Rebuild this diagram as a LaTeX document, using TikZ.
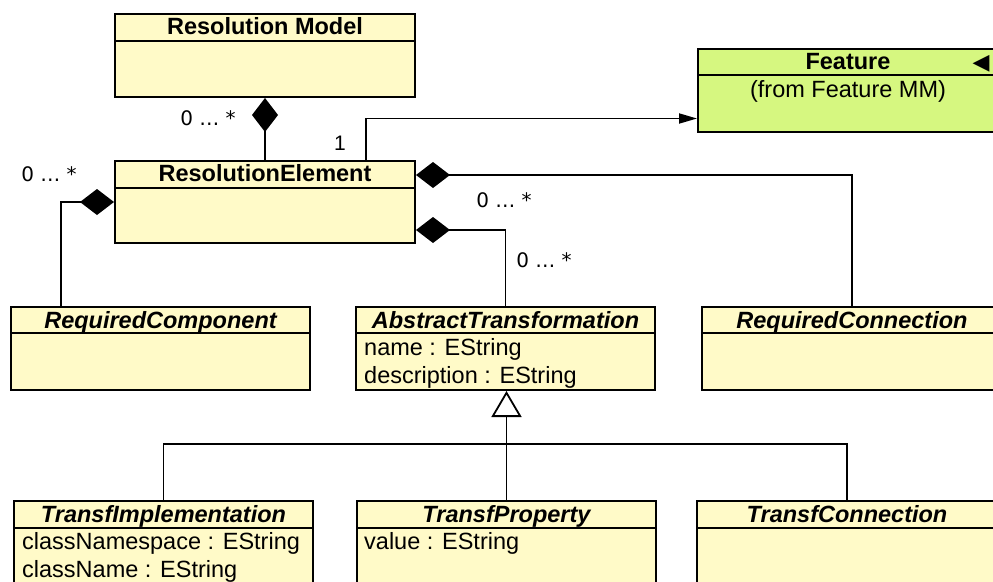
\documentclass[tikz,border=0pt]{standalone}
\usepackage{fontspec}
\setmainfont{Liberation Sans}
\newfontfamily\dejavu{DejaVu Sans}
\usetikzlibrary{arrows.meta,calc}
\definecolor{umlyellow}{RGB}{255,250,200}
\definecolor{umlgreen}{RGB}{214,247,128}
\begin{document}
\begin{tikzpicture}[x=1pt,y=-1pt,
  cls/.style={draw=black, line width=2pt, fill=umlyellow, rectangle, inner sep=0pt, anchor=north west},
  hdr/.style={inner sep=0pt, anchor=base, font=\fontsize{23.5}{28}\selectfont\bfseries},
  ihdr/.style={inner sep=0pt, anchor=base, font=\fontsize{23.5}{28}\selectfont\bfseries\itshape},
  attr/.style={inner sep=0pt, anchor=base west, font=\fontsize{23.5}{28}\selectfont},
  mult/.style={inner sep=0pt, font=\dejavu\fontsize{20}{24}\selectfont},
  conn/.style={line width=1.8pt, draw=black},
  compo/.style={{Diamond[length=34pt,width=26pt]}-},
  inherit/.style={-{Triangle[length=26pt,width=30pt,fill=white]}},
  assoc/.style={-{Triangle[length=18pt,width=10pt]}}
]
\path[use as bounding box, clip] (0,0) rectangle (993,581);

% classes
\node[cls, minimum width=300pt, minimum height=83pt] (rm) at (114,13) {};
\draw[line width=1.6pt] ([yshift=-28pt]rm.north west) -- ([yshift=-28pt]rm.north east);
\node[hdr] (rmt) at ([yshift=-21.5pt]rm.north) {Resolution Model};

\node[cls, minimum width=300pt, minimum height=82pt] (re) at (114,160) {};
\draw[line width=1.6pt] ([yshift=-28pt]re.north west) -- ([yshift=-28pt]re.north east);
\node[hdr] (ret) at ([yshift=-21.5pt]re.north) {ResolutionElement};

\node[cls, fill=umlgreen, minimum width=300pt, minimum height=83pt] (feat) at (697,48) {};
\draw[line width=1.6pt] ([yshift=-27pt]feat.north west) -- ([yshift=-27pt]feat.north east);
\node[hdr] (featt) at ([yshift=-21pt]feat.north) {Feature};
\node[attr, anchor=base] (featf) at ([yshift=-49pt]feat.north) {(from Feature MM)};
\node[inner sep=0pt, font=\dejavu\fontsize{22}{24}\selectfont] (feats) at (981,64) {◀};

\node[cls, minimum width=299pt, minimum height=83pt] (rcomp) at (10,306) {};
\draw[line width=1.6pt] ([yshift=-27pt]rcomp.north west) -- ([yshift=-27pt]rcomp.north east);
\node[ihdr] (rcompt) at ([yshift=-22pt]rcomp.north) {RequiredComponent};

\node[cls, minimum width=299pt, minimum height=83pt] (at) at (355,306) {};
\draw[line width=1.6pt] ([yshift=-27pt]at.north west) -- ([yshift=-27pt]at.north east);
\node[ihdr] (att) at ([yshift=-22pt]at.north) {AbstractTransformation};
\node[attr] (ata1) at ([xshift=9pt,yshift=-49pt]at.north west) {name : EString};
\node[attr] (ata2) at ([xshift=9pt,yshift=-77pt]at.north west) {description : EString};

\node[cls, minimum width=300pt, minimum height=83pt] (rconn) at (701,306) {};
\draw[line width=1.6pt] ([yshift=-27pt]rconn.north west) -- ([yshift=-27pt]rconn.north east);
\node[ihdr] (rconnt) at ([yshift=-22pt]rconn.north) {RequiredConnection};

\node[cls, minimum width=299pt, minimum height=100pt] (ti) at (13,500) {};
\draw[line width=1.6pt] ([yshift=-28pt]ti.north west) -- ([yshift=-28pt]ti.north east);
\node[ihdr] (tit) at ([yshift=-22pt]ti.north) {TransfImplementation};
\node[attr] (tia1) at ([xshift=9pt,yshift=-49pt]ti.north west) {classNamespace : EString};
\node[attr] (tia2) at ([xshift=9pt,yshift=-77pt]ti.north west) {className : EString};

\node[cls, minimum width=299pt, minimum height=100pt] (tp) at (356,500) {};
\draw[line width=1.6pt] ([yshift=-28pt]tp.north west) -- ([yshift=-28pt]tp.north east);
\node[ihdr] (tpt) at ([yshift=-22pt]tp.north) {TransfProperty};
\node[attr] (tpa1) at ([xshift=8pt,yshift=-49pt]tp.north west) {value : EString};

\node[cls, minimum width=300pt, minimum height=100pt] (tc) at (696,500) {};
\draw[line width=1.6pt] ([yshift=-28pt]tc.north west) -- ([yshift=-28pt]tc.north east);
\node[ihdr] (tct) at ([yshift=-22pt]tc.north) {TransfConnection};

% connectors
\draw[conn, compo] (rm.south) -- (re.north);
\draw[conn, assoc] ([xshift=101pt]re.north) |- ([yshift=-28pt]feat.west);
\draw[conn, compo] ([yshift=27pt]re.east) -| (rconn.north);
\draw[conn, compo] ([yshift=-28pt]re.east) -| (at.north);
\draw[conn, compo] (re.west) -| ([xshift=-99.5pt]rcomp.north);

\coordinate (bus) at (505,444);
\draw[conn] (ti.north) |- (bus) -| (tc.north);
\draw[conn, inherit] (tp.north) -- (tp.north |- at.south);

% multiplicities
\node[mult] (m1) at (208,118) {0 … *};
\node[inner sep=0pt, font=\fontsize{21}{24}\selectfont] (m2) at (340,143) {1};
\node[mult] (m3) at (49,174) {0 … *};
\node[mult] (m4) at (504,200) {0 … *};
\node[mult] (m5) at (544,260) {0 … *};
\end{tikzpicture}
\end{document}
